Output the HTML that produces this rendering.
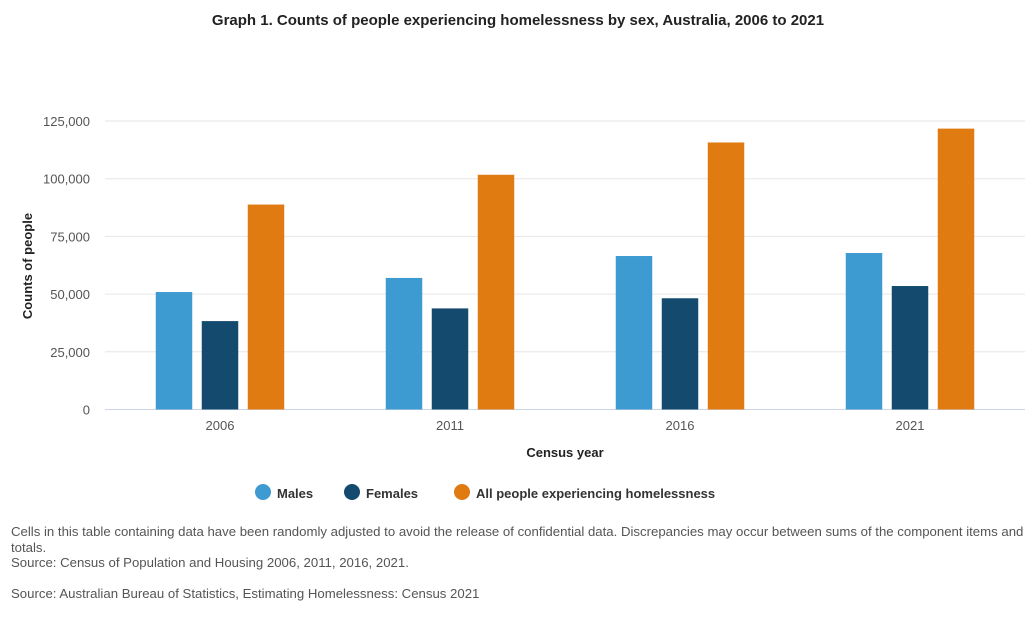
<!DOCTYPE html>
<html><head><meta charset="utf-8"><style>
body{margin:0;background:#fff;font-family:"Liberation Sans",sans-serif;}
#wrap{position:relative;width:1036px;height:618px;overflow:hidden;}
.note{position:absolute;left:11px;font-size:13.2px;color:#555;line-height:15.5px;}
</style></head><body>
<div id="wrap">
<svg id="chart" width="1036" height="618" style="position:absolute;left:0;top:0"></svg>
<div class="note" style="top:524px;width:1020px">Cells in this table containing data have been randomly adjusted to avoid the release of confidential data. Discrepancies may occur between sums of the component items and totals.<br>Source: Census of Population and Housing 2006, 2011, 2016, 2021.</div>
<div class="note" style="top:586px">Source: Australian Bureau of Statistics, Estimating Homelessness: Census 2021</div>
</div>
<script>
const categories=["2006","2011","2016","2021"];
const males=[50900,57000,66500,67800];
const females=[38300,43800,48200,53500];
const totals=[88800,101700,115700,121700];
const yTicks=[0,25000,50000,75000,100000,125000];
const seriesNames=["Males","Females","All people experiencing homelessness"];
const colors=["#3d9bd1","#144a6e","#e07b12"];
const NS="http://www.w3.org/2000/svg";
const svg=document.getElementById('chart');
function el(t,a,txt){const e=document.createElementNS(NS,t);for(const k in a)e.setAttribute(k,a[k]);if(txt!==undefined)e.textContent=txt;svg.appendChild(e);return e;}
const x0=105,x1=1025,y0=409.5,yTop=121;
const y=v=>y0-(v/125000)*(y0-yTop);
const band=(x1-x0)/categories.length;
const xc=i=>x0+band*(i+0.5);
const t=el('text',{x:518,y:25,'text-anchor':'middle','font-size':'15','font-weight':'bold',fill:'#222'},'Graph 1. Counts of people experiencing homelessness by sex, Australia, 2006 to 2021');


yTicks.forEach(v=>{
 const g=el('line',{x1:x0,x2:x1,y1:y(v),y2:y(v),stroke:v===0?'#ccd6eb':'#e6e6e6','stroke-width':1});
 
 
 const l=el('text',{x:90,y:y(v)+5,'text-anchor':'end','font-size':'13',fill:'#555'},v.toLocaleString('en-US'));
 
 
});
const series=[males,females,totals];
const bw=36.5,step=46;
categories.forEach((c,i)=>{
 series.forEach((s,j)=>{
  const bx=xc(i)+(j-1)*step-bw/2;
  const r=el('rect',{x:bx,y:y(s[i]),width:bw,height:y0-y(s[i]),fill:colors[j]});
  
  
 });
 const l=el('text',{x:xc(i),y:430,'text-anchor':'middle','font-size':'13',fill:'#555'},c);
 
 
});
const xt=el('text',{x:565,y:457,'text-anchor':'middle','font-size':'13','font-weight':'bold',fill:'#222'},'Census year');


const yt=el('text',{x:0,y:0,transform:'translate(32,266) rotate(-90)','text-anchor':'middle','font-size':'13','font-weight':'bold',fill:'#222'},'Counts of people');


const lx=[263,352,462];
seriesNames.forEach((n,j)=>{
 const c=el('circle',{cx:lx[j],cy:492,r:8,fill:colors[j]});
 
 
 const tx=el('text',{x:lx[j]+14,y:498,'font-size':'13','font-weight':'bold',fill:'#333'},n);
 
 
});
</script>
</body></html>
